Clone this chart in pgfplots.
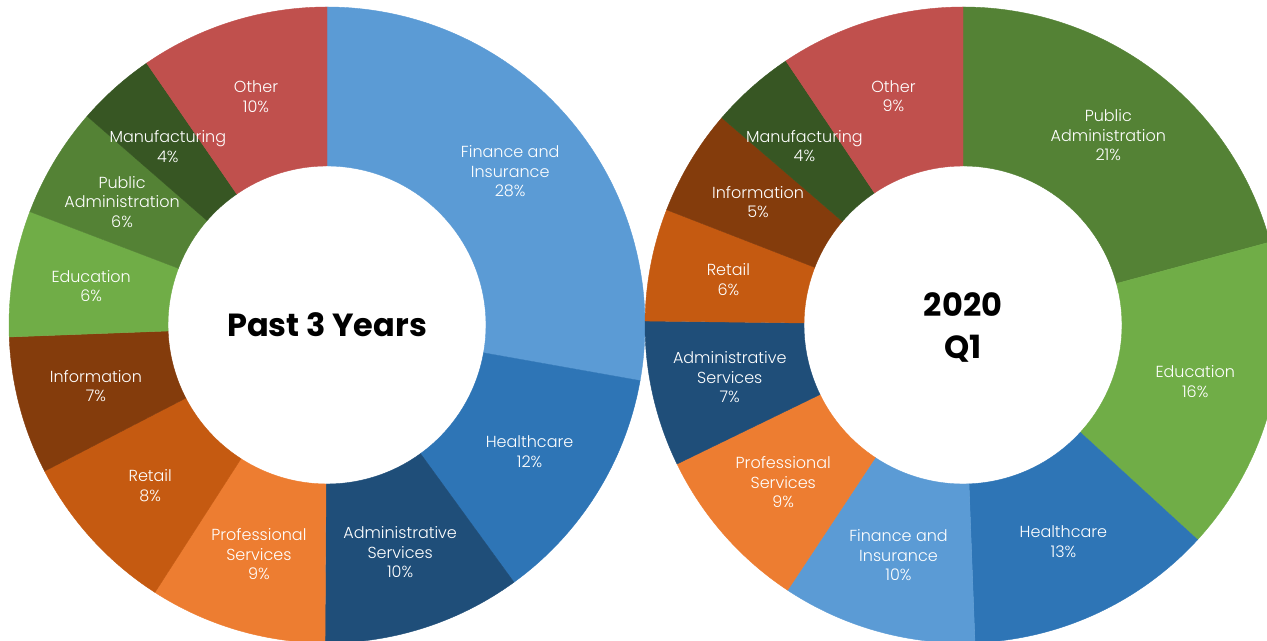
\documentclass[border=0pt]{standalone}
\usepackage{pgfplots}
\pgfplotsset{compat=1.18}
\usepackage{pgfplotstable}
\usepackage{fontspec}
\setmainfont{Poppins}
\newfontfamily\lightfont{Poppins Light}

\definecolor{cFin}{HTML}{5B9BD5}
\definecolor{cHea}{HTML}{2E75B6}
\definecolor{cAdm}{HTML}{1F4E79}
\definecolor{cPro}{HTML}{ED7D31}
\definecolor{cRet}{HTML}{C55A11}
\definecolor{cInf}{HTML}{843C0C}
\definecolor{cEdu}{HTML}{70AD47}
\definecolor{cPub}{HTML}{548235}
\definecolor{cMan}{HTML}{375623}
\definecolor{cOth}{HTML}{C0504D}

% pct = share of the ring, shown = printed label value
\pgfplotstableread{
pct shown col l1 l2
27.8 28 cFin {Finance and} Insurance
12.2 12 cHea Healthcare -
10.1 10 cAdm Administrative Services
9.0 9 cPro Professional Services
8.3 8 cRet Retail -
7.0 7 cInf Information -
6.4 6 cEdu Education -
5.6 6 cPub Public Administration
4.0 4 cMan Manufacturing -
9.6 10 cOth Other -
}\pastdata

\pgfplotstableread{
pct shown col l1 l2
20.8 21 cPub Public Administration
16.0 16 cEdu Education -
12.6 13 cHea Healthcare -
9.9 10 cFin {Finance and} Insurance
8.5 9 cPro Professional Services
7.4 7 cAdm Administrative Services
5.7 6 cRet Retail -
5.4 5 cInf Information -
4.3 4 cMan Manufacturing -
9.4 9 cOth Other -
}\qdata

\def\dashmark{-}
\newcommand\lfont{\lightfont\fontsize{8}{9.75}\selectfont}
\newcommand\cfont{\fontsize{16}{21}\selectfont\bfseries}

% #1 table, #2 cx, #3 cy, #4 = 1 wedges / 2 labels
\newcommand\donutpass[4]{%
  \pgfplotstablegetrowsof{#1}%
  \pgfmathtruncatemacro\nrows{\pgfplotsretval-1}%
  \gdef\cum{0}%
  \foreach \i in {0,...,\nrows}{%
    \pgfplotstablegetelem{\i}{pct}\of{#1}\let\pct\pgfplotsretval
    \pgfplotstablegetelem{\i}{shown}\of{#1}\let\shown\pgfplotsretval
    \pgfplotstablegetelem{\i}{col}\of{#1}\let\col\pgfplotsretval
    \pgfplotstablegetelem{\i}{l1}\of{#1}\let\lA\pgfplotsretval
    \pgfplotstablegetelem{\i}{l2}\of{#1}\let\lB\pgfplotsretval
    \pgfmathsetmacro\aA{90-3.6*\cum}%
    \pgfmathsetmacro\aB{90-3.6*(\cum+\pct)}%
    \pgfmathsetmacro\aM{(\aA+\aB)/2}%
    \pgfmathsetmacro\newcum{\cum+\pct}%
    \xdef\cum{\newcum}%
    \ifx\lB\dashmark
      \edef\lab{\lA\noexpand\\\shown\noexpand\%}%
    \else
      \edef\lab{\lA\noexpand\\\lB\noexpand\\\shown\noexpand\%}%
    \fi
    \ifnum#4=1
    \edef\temp{%
      \noexpand\fill[\col, draw=\col, line width=0.2pt] ([shift={(\aA:159pt)}]axis cs:#2,#3) arc[start angle=\aA, end angle=\aB, radius=159pt] -- ([shift={(\aB:79.5pt)}]axis cs:#2,#3) arc[start angle=\aB, end angle=\aA, radius=79.5pt] -- cycle;
    }%
    \else
    \edef\temp{%
      \noexpand\node[text=white, align=center, inner sep=0pt, font=\noexpand\lfont] at ([shift={(\aM:119.5pt)}]axis cs:#2,#3) {\unexpanded\expandafter{\lab}};
    }%
    \fi
    \temp
  }%
}

\begin{document}
\begin{tikzpicture}
\begin{axis}[width=633.5pt, height=320.5pt, scale only axis,
  xmin=0, xmax=1267, ymin=0, ymax=641, hide axis, clip=true]
\donutpass{\pastdata}{327}{316}{1}
\donutpass{\pastdata}{327}{316}{2}
\donutpass{\qdata}{963}{316}{1}
\donutpass{\qdata}{963}{316}{2}
\node[font=\cfont] at (axis cs:327,316) {Past 3 Years};
\node[font=\cfont, align=center] at (axis cs:963,314) {2020\\Q1};
\end{axis}
\pgfresetboundingbox
\useasboundingbox (current axis.south west) rectangle (current axis.north east);
\end{tikzpicture}
\end{document}
